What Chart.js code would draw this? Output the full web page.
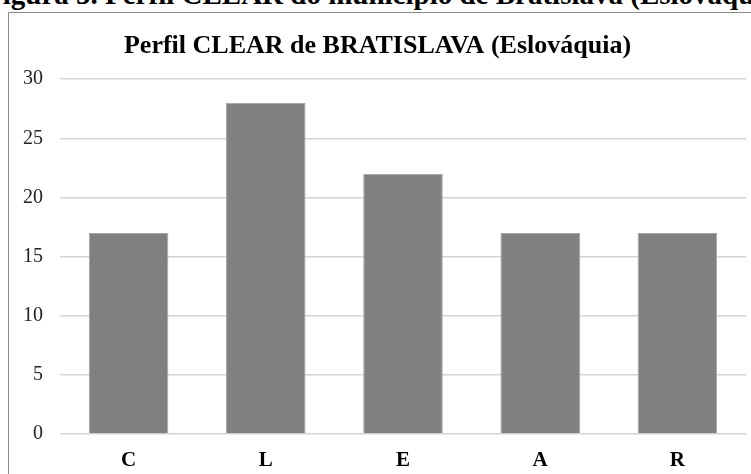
<!DOCTYPE html>
<html>
<head>
<meta charset="utf-8">
<script src="https://cdn.jsdelivr.net/npm/chart.js@4"></script>
<style>
    body { margin: 0; width: 751px; height: 474px; overflow: hidden; background: #fff; position: relative; }
    .caption {
        position: absolute; left: -15px; top: -22px; white-space: nowrap;
        font: bold 29px "Liberation Serif", "Times New Roman", serif; color: #000;
    }
    .box {
        position: absolute; left: 8px; top: 12px; width: 760px; height: 480px;
        border: 1.5px solid #8a8a8a; background: #fff;
    }
    #clearChart { position: absolute; left: 0; top: 0; }
</style>
</head>
<body>
<div class="caption">Figura 5. Perfil CLEAR do município de Bratislava (Eslováquia)</div>
<div class="box">
    <canvas id="clearChart" width="743" height="462"></canvas>
</div>
<script>
// dados do perfil CLEAR
const categories = ["C", "L", "E", "A", "R"];
const scores = [17, 28, 22, 17, 17];
const yTicks = [0, 5, 10, 15, 20, 25, 30];

const serif = "'Liberation Serif', 'Times New Roman', serif";

const ctx = document.getElementById("clearChart").getContext("2d");
new Chart(ctx, {
    type: "bar",
    data: {
        labels: categories,
        datasets: [{
            label: "Perfil CLEAR",
            data: scores,
            backgroundColor: "#808080",
            borderColor: "#a6a6a6",
            borderWidth: 1,
            categoryPercentage: 1,
            barPercentage: 0.58,
        }],
    },
    options: {
        responsive: false,
        animation: false,
        layout: { padding: { left: 0, right: 6, top: 0, bottom: 0 } },
        plugins: {
            legend: { display: false },
            tooltip: { enabled: false },
            title: {
                display: true,
                text: "Perfil CLEAR de BRATISLAVA (Eslováquia)",
                color: "#000",
                font: { family: serif, size: 26, weight: "bold" },
                padding: { top: 18, bottom: 17 },
            },
        },
        scales: {
            x: {
                grid: { display: false },
                border: { display: false },
                ticks: {
                    color: "#000",
                    font: { family: serif, size: 21, weight: "bold" },
                    padding: 6,
                },
                afterFit: (s) => { s.height = 41; },
            },
            y: {
                min: 0,
                max: 30,
                afterBuildTicks: (s) => { s.ticks = yTicks.map((v) => ({ value: v })); },
                grid: { color: "#d4d4d4", lineWidth: 1.5, drawTicks: false },
                border: { display: false },
                ticks: {
                    color: "#222",
                    font: { family: serif, size: 20 },
                    padding: 17,
                },
                afterFit: (s) => { s.width = 51; },
            },
        },
    },
});
</script>
</body>
</html>
